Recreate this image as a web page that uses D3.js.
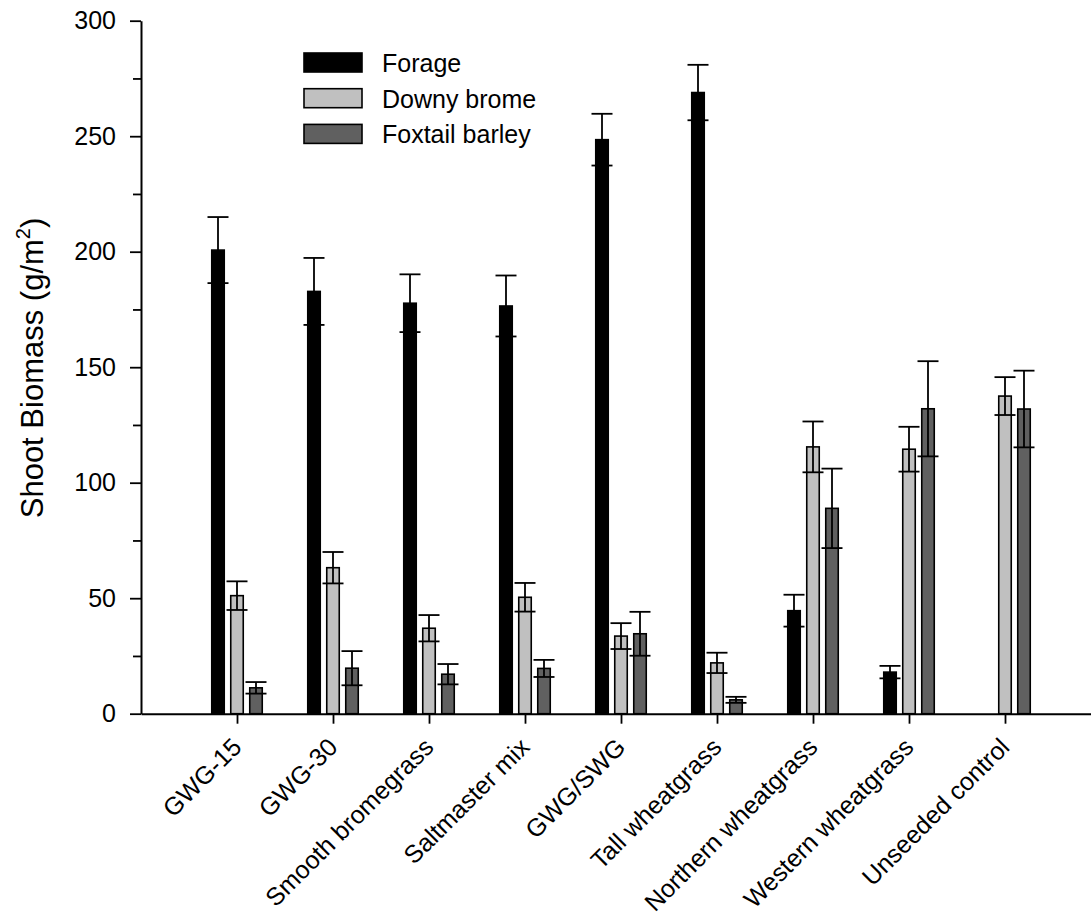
<!DOCTYPE html>
<html>
<head>
<meta charset="utf-8">
<script src="https://cdn.jsdelivr.net/npm/d3@7"></script>
<style>
  html, body { margin: 0; padding: 0; background: #fff; }
  svg { display: block; font-family: "Liberation Sans", Arial, sans-serif; }
</style>
</head>
<body>
<script>
const categories = ["GWG-15", "GWG-30", "Smooth bromegrass", "Saltmaster mix", "GWG/SWG",
  "Tall wheatgrass", "Northern wheatgrass", "Western wheatgrass", "Unseeded control"];
const seriesNames = ["Forage", "Downy brome", "Foxtail barley"];
const forage      = [200.7, 182.8, 177.7, 176.5, 248.5, 268.9, 44.6, 18.0, null];
const forageSE    = [14.3, 14.5, 12.5, 13.2, 11.2, 12.0, 6.9, 2.7, null];
const downyBrome  = [51.1, 63.2, 37.0, 50.4, 33.6, 22.0, 115.5, 114.5, 137.5];
const downySE     = [6.2, 6.8, 5.7, 6.2, 5.6, 4.4, 11.0, 9.7, 8.2];
const foxtail     = [11.2, 19.7, 17.1, 19.6, 34.6, 6.0, 88.9, 132.0, 131.9];
const foxtailSE   = [2.5, 7.4, 4.4, 3.7, 9.5, 1.3, 17.2, 20.6, 16.6];
const yMajorTicks = [0, 50, 100, 150, 200, 250, 300];
const yMinorTicks = [25, 75, 125, 175, 225, 275];
const colors = ["#000000", "#c0c0c0", "#606060"];

const W = 1091, H = 916;
const svg = d3.select("body").append("svg").attr("width", W).attr("height", H);

const x = d3.scaleLinear().domain([0, categories.length + 1]).range([141, 1101]);
const y = d3.scaleLinear().domain([0, 300]).range([713.7, 20.7]);

const series = [
  {name: seriesNames[0], vals: forage, se: forageSE, color: colors[0], off: -19},
  {name: seriesNames[1], vals: downyBrome, se: downySE, color: colors[1], off: 0},
  {name: seriesNames[2], vals: foxtail, se: foxtailSE, color: colors[2], off: 19}
];

const barW = 12.5;
const capW = 21;

// bars
series.forEach(s => {
  const g = svg.append("g");
  categories.forEach((c, i) => {
    const v = s.vals[i];
    if (v == null) return;
    const cx = x(i + 1) + s.off;
    g.append("rect")
      .attr("x", cx - barW / 2).attr("width", barW)
      .attr("y", y(v)).attr("height", y(0) - y(v))
      .attr("fill", s.color).attr("stroke", "#000").attr("stroke-width", 1.6);
  });
});

// error bars
series.forEach(s => {
  const g = svg.append("g").attr("stroke", "#000").attr("stroke-width", 1.8);
  categories.forEach((c, i) => {
    const v = s.vals[i], e = s.se[i];
    if (v == null) return;
    const cx = x(i + 1) + s.off;
    g.append("line").attr("x1", cx).attr("x2", cx).attr("y1", y(v - e)).attr("y2", y(v + e));
    g.append("line").attr("x1", cx - capW / 2).attr("x2", cx + capW / 2).attr("y1", y(v + e)).attr("y2", y(v + e));
    g.append("line").attr("x1", cx - capW / 2).attr("x2", cx + capW / 2).attr("y1", y(v - e)).attr("y2", y(v - e));
  });
});

// y axis
const yAxis = svg.append("g").attr("transform", `translate(${x(0)},0)`)
  .call(d3.axisLeft(y).tickValues(yMajorTicks).tickSize(11).tickSizeOuter(0).tickPadding(14));
yAxis.selectAll("text").attr("font-size", 25).attr("font-family", "Liberation Sans, Arial, sans-serif").attr("fill", "#000");
yAxis.select(".domain").attr("stroke-width", 2);
yAxis.selectAll(".tick line").attr("stroke-width", 1.8);
const yMinor = svg.append("g").attr("transform", `translate(${x(0)},0)`)
  .call(d3.axisLeft(y).tickValues(yMinorTicks).tickSize(8).tickSizeOuter(0).tickFormat(""));
yMinor.select(".domain").remove();
yMinor.selectAll(".tick line").attr("stroke-width", 1.8);

// x axis
const xAxis = svg.append("g").attr("transform", `translate(0,${y(0)})`)
  .call(d3.axisBottom(x).tickValues(d3.range(1, categories.length + 1)).tickSize(10).tickSizeOuter(0).tickFormat(""));
xAxis.select(".domain").attr("stroke-width", 2);
xAxis.selectAll(".tick line").attr("stroke-width", 1.8);

svg.append("g").selectAll("text").data(categories).join("text")
  .attr("transform", (d, i) => `translate(${x(i + 1) + 6},${y(0) + 35}) rotate(-45)`)
  .attr("text-anchor", "end")
  .attr("font-size", 25)
  .attr("fill", "#000")
  .text(d => d);

// y title
const title = svg.append("text")
  .attr("transform", "translate(43,368) rotate(-90)")
  .attr("text-anchor", "middle")
  .attr("font-size", 31)
  .attr("fill", "#000");
title.append("tspan").text("Shoot Biomass (g/m");
title.append("tspan").attr("font-size", 20).attr("dy", -13).text("2");
title.append("tspan").attr("dy", 13).text(")");

// legend
const legend = svg.append("g");
series.forEach((s, i) => {
  const ly = 53 + i * 35.7;
  legend.append("rect").attr("x", 304).attr("y", ly).attr("width", 58).attr("height", 19)
    .attr("fill", s.color).attr("stroke", "#000").attr("stroke-width", 1.6);
  legend.append("text").attr("x", 382).attr("y", ly + 10).attr("dy", "0.36em")
    .attr("font-size", 25).attr("fill", "#000").text(s.name);
});
</script>
</body>
</html>
